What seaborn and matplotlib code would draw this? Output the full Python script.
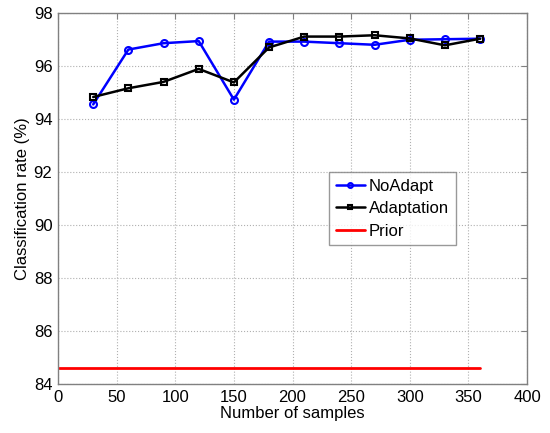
import matplotlib
matplotlib.use("Agg")
import matplotlib.pyplot as plt
import seaborn as sns
import pandas as pd

samples = [30, 60, 90, 120, 150, 180, 210, 240, 270, 300, 330, 360]
noadapt = [94.55, 96.62, 96.86, 96.94, 94.73, 96.92, 96.92, 96.86, 96.80, 96.99, 97.01, 97.03]
adaptation = [94.83, 95.16, 95.40, 95.89, 95.38, 96.70, 97.11, 97.11, 97.16, 97.04, 96.78, 97.03]
prior_x = [1, 360]
prior_y = [84.62, 84.62]

xticks = [0, 50, 100, 150, 200, 250, 300, 350, 400]
yticks = [84, 86, 88, 90, 92, 94, 96, 98]

sns.set_style("white")
plt.rcParams['font.family'] = ['Liberation Sans', 'DejaVu Sans']
plt.rcParams['text.color'] = 'black'
plt.rcParams['axes.labelcolor'] = 'black'
plt.rcParams['xtick.color'] = 'black'
plt.rcParams['ytick.color'] = 'black'

fig = plt.figure(figsize=(5.5, 4.33), dpi=100)
ax = fig.add_axes([0.1055, 0.1132, 0.8527, 0.8568])

df_na = pd.DataFrame({"x": samples, "y": noadapt})
df_ad = pd.DataFrame({"x": samples, "y": adaptation})
df_pr = pd.DataFrame({"x": prior_x, "y": prior_y})

sns.lineplot(data=df_na, x="x", y="y", ax=ax, color="#0000ff", lw=1.8,
             marker="o", markersize=5, markerfacecolor="none",
             markeredgecolor="#0000ff", markeredgewidth=1.5, label="NoAdapt")
sns.lineplot(data=df_ad, x="x", y="y", ax=ax, color="black", lw=1.8,
             marker="s", markersize=5, markerfacecolor="none",
             markeredgecolor="black", markeredgewidth=1.5, label="Adaptation")
sns.lineplot(data=df_pr, x="x", y="y", ax=ax, color="red", lw=2, label="Prior")

ax.set_xlim(0, 400)
ax.set_ylim(84, 98)
ax.set_xticks(xticks)
ax.set_yticks(yticks)
ax.set_xlabel("Number of samples", fontsize=12, labelpad=1)
ax.set_ylabel("Classification rate (%)", fontsize=12, labelpad=3)
ax.tick_params(axis="both", labelsize=12, direction="in", length=4,
               color="#808080", labelcolor="black", top=True, right=True, pad=4)
ax.grid(True, linestyle=":", color="#b0b0b0", linewidth=0.8)
for s in ax.spines.values():
    s.set_visible(True)
    s.set_color("#808080")
    s.set_linewidth(1.0)

leg = ax.legend(loc="upper left", bbox_to_anchor=(0.578, 0.571), fontsize=12,
                frameon=True, fancybox=False, handlelength=1.75,
                borderpad=0.4, labelspacing=0.45, handletextpad=0.25,
                borderaxespad=0)
leg.get_frame().set_edgecolor("#808080")
leg.get_frame().set_linewidth(1.0)
for h in leg.legend_handles:
    h.set_markersize(3.5)

fig.savefig("out.png", dpi=100)
